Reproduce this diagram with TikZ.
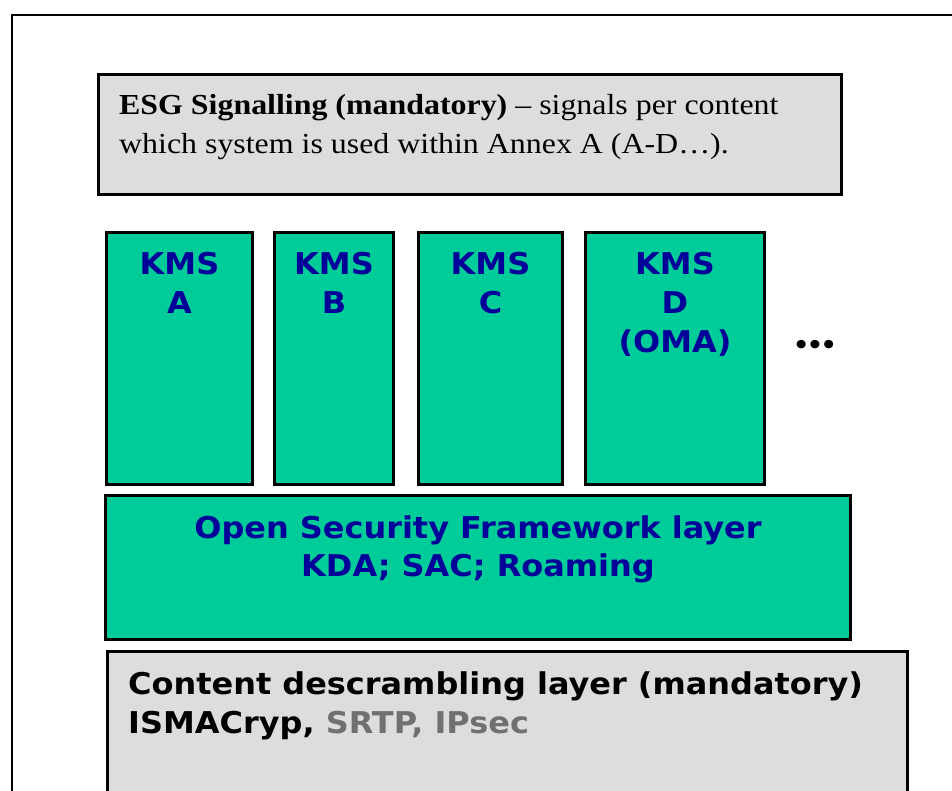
\documentclass[tikz,border=0pt]{standalone}
\usepackage{fontspec}
\usetikzlibrary{shadows}
\setmainfont{Liberation Serif}
\newfontfamily\vfont{DejaVu Sans}[FakeStretch=1.065]
\newfontfamily\esgfont{Liberation Serif}[FakeStretch=1.1, Ligatures=TeX]
\definecolor{kmsgreen}{RGB}{0,204,153}
\definecolor{kmsblue}{RGB}{0,0,153}
\definecolor{boxgray}{RGB}{221,221,221}
\definecolor{midgray}{RGB}{112,112,112}
\definecolor{shadowgray}{RGB}{170,170,170}
\tikzset{
  box/.style={draw=black, line width=3pt, anchor=north west, inner sep=0pt,
    drop shadow={shadow xshift=1.5pt, shadow yshift=-1.5pt, fill=shadowgray, opacity=1}},
  greenbox/.style={box, fill=kmsgreen},
  graybox/.style={box, fill=boxgray},
  kmstext/.style={anchor=north, inner sep=0pt, align=center, text=kmsblue,
    font=\vfont\bfseries\fontsize{30}{39}\selectfont},
  osftext/.style={anchor=north, inner sep=0pt, align=center, text=kmsblue,
    font=\vfont\bfseries\fontsize{30}{38}\selectfont},
  cdltext/.style={anchor=north west, inner sep=0pt, align=left, text=black,
    font=\vfont\bfseries\fontsize{30}{39}\selectfont},
  esgtext/.style={anchor=north west, inner sep=0pt, align=left, text=black,
    font=\esgfont\fontsize{29}{39}\selectfont},
}
\begin{document}
\begin{tikzpicture}[x=1pt,y=-1pt]
\useasboundingbox (0,0) rectangle (952,791);
\clip (0,0) rectangle (952,791);
\fill[white] (0,0) rectangle (952,791);
% outer frame
\draw[line width=1.5pt] (12,830) -- (12,15) -- (990,15);
% ESG box
\node[graybox, minimum width=743pt, minimum height=120pt] (esg) at (97,73) {};
\node[esgtext] (esgt) at (119,94) {\textbf{ESG Signalling (mandatory)} \textendash{} signals per content\\which system is used within Annex A (A-D\ldots).};
% KMS boxes
\node[greenbox, minimum width=146pt, minimum height=252pt] (ka) at (105,231) {};
\node[greenbox, minimum width=119pt, minimum height=252pt] (kb) at (273,231) {};
\node[greenbox, minimum width=144pt, minimum height=252pt] (kc) at (417,231) {};
\node[greenbox, minimum width=179pt, minimum height=252pt] (kd) at (584,231) {};
\node[kmstext] (kat) at ([yshift=-21pt]ka.north) {KMS\\A};
\node[kmstext] (kbt) at ([yshift=-21pt]kb.north) {KMS\\B};
\node[kmstext] (kct) at ([yshift=-21pt]kc.north) {KMS\\C};
\node[kmstext] (kdt) at ([yshift=-21pt]kd.north) {KMS\\D\\(OMA)};
\node[inner sep=0pt, font=\vfont\bfseries\fontsize{24}{30}\selectfont] (dots) at (815,347) {\textbullet\kern-2.5pt\textbullet\kern-2.5pt\textbullet};
% OSF layer
\node[greenbox, minimum width=745pt, minimum height=144pt] (osf) at (104,494) {};
\node[osftext] (osft) at ([yshift=-22pt]osf.north) {Open Security Framework layer\\KDA; SAC; Roaming};
% Content descrambling layer
\node[graybox, minimum width=800pt, minimum height=180pt] (cdl) at (106,650) {};
\node[cdltext] (cdlt) at (128,671) {Content descrambling layer (mandatory)\\ISMACryp, {\color{midgray}SRTP, IPsec}};
\end{tikzpicture}
\end{document}
